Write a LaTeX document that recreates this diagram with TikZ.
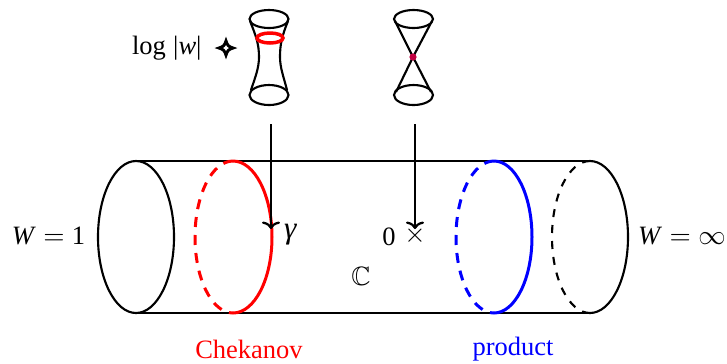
\documentclass[tikz,border=0pt]{standalone}
\usepackage{amssymb}
\usepackage{fontspec}
\setmainfont{Liberation Serif}
\usetikzlibrary{arrows.meta, positioning}
\definecolor{DotColor}{HTML}{C00040}

\begin{document}
\begin{tikzpicture}[
        x=0.4pt, y=-0.4pt,
        font=\fontsize{10.6}{12}\selectfont,
        every node/.style={inner sep=0pt, outer sep=0pt},
        wall/.style={line width=0.85pt, black},
        back/.style={wall, dashed, dash pattern=on 3.2pt off 3.2pt},
        loopred/.style={line width=1.2pt, red},
        loopblue/.style={line width=1.2pt, blue},
        backloop/.style={dashed, dash pattern=on 4pt off 3.2pt},
        arr/.style={-{Computer Modern Rightarrow[length=3pt,width=7.2pt]}, line width=0.9pt}
      ]
        \useasboundingbox (0,0) rectangle (727,363);

        % Cylinder
        \draw[wall] (136,161) -- (590,161);
        \draw[wall] (136,313) -- (590,313);
        \draw[wall] (136,237) ellipse [x radius=38, y radius=76];
        \draw[wall] (590,161) arc [start angle=-90, end angle=90, x radius=38, y radius=76];
        \draw[back] (590,161) arc [start angle=-90, end angle=-270, x radius=38, y radius=76];

        % Loops
        \draw[loopred] (233,161) arc [start angle=-90, end angle=90, x radius=39, y radius=76];
        \draw[loopred, backloop] (233,161) arc [start angle=-90, end angle=-270, x radius=38, y radius=76];
        \draw[loopblue] (494,161) arc [start angle=-90, end angle=90, x radius=38, y radius=76];
        \draw[loopblue, backloop] (494,161) arc [start angle=-90, end angle=-270, x radius=38, y radius=76];

        % Left fibre
        \draw[wall] (269,19) ellipse [x radius=19.5, y radius=9];
        \draw[wall] (269,95) ellipse [x radius=19.5, y radius=10];
        \draw[wall] (250,21) .. controls (256,36) and (259,44) .. (259,57) .. controls (259,68) and (255,78) .. (251,90);
        \draw[wall] (288,21) .. controls (282,36) and (280,44) .. (280,57) .. controls (280,68) and (284,78) .. (287,90);
        \draw[loopred, line width=1.4pt] (270,38) ellipse [x radius=13, y radius=5];

        % Right fibre
        \coordinate (pinch) at (413,57);
        \draw[wall] (413.5,19) ellipse [x radius=19.5, y radius=9];
        \draw[wall] (413.5,95) ellipse [x radius=19.5, y radius=10];
        \draw[wall] (395,21) -- (pinch) -- (431,92);
        \draw[wall] (432,21) -- (pinch) -- (396,92);
        \fill[DotColor] (pinch) circle [radius=3.6];

        % Arrows
        \coordinate (fibreA) at (271,124);
        \coordinate (gammaTip) at (271,229);
        \coordinate (fibreB) at (415,124);
        \coordinate (zeroTip) at (415,229);
        \draw[arr] (fibreA) -- (gammaTip);
        \draw[arr] (fibreB) -- (zeroTip);

        % Action symbol
        \draw[line width=1.2pt, line join=miter] (219,48) .. controls (223,47) and (225,45) .. (226,41) .. controls (227,45) and (229,47) .. (233,48) .. controls (229,49) and (227,51) .. (226,55) .. controls (225,51) and (223,49) .. (219,48) -- cycle;

        % Labels
        \node (logw) at (169,48) {log\;|\textit{w}|\,};
        \node (wone) at (48.5,236) {\textit{W}\;$=$\;1};
        \node (winf) at (682,236) {\textit{W}\;$=\infty$};
        \node (gamma) at (290.5,235) {\fontsize{12.5}{12}\selectfont\textit{γ}};
        \node (zero) at (389,237) {0};
        \node (cross) at (415,236) {$\times$};
        \node (plane) at (361,276) {$\mathbb{C}$};
        \node[red] (chekanov) at (249,349) {Chekanov};
        \node[blue] (product) at (513,349) {product};
      \end{tikzpicture}
\end{document}
